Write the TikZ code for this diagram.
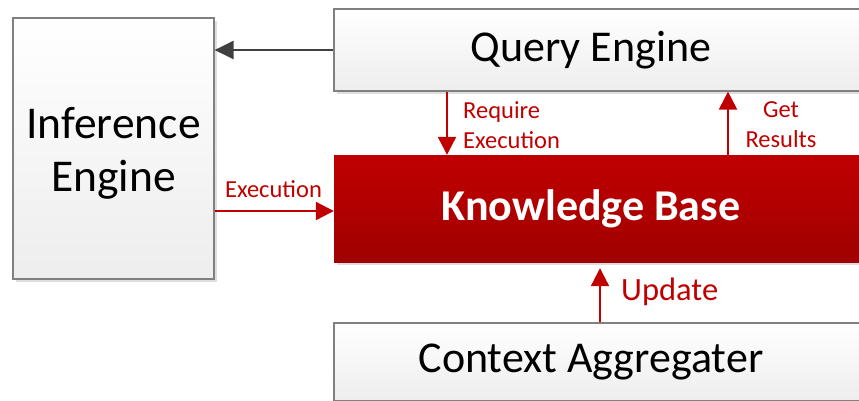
\documentclass[tikz,border=0pt]{standalone}
\usepackage{fontspec}
\setmainfont{Carlito}
\usetikzlibrary{arrows.meta,shadows}
\definecolor{kbtop}{HTML}{C00000}
\definecolor{kbbot}{HTML}{A00000}
\definecolor{redline}{HTML}{C00000}
\definecolor{edgegray}{HTML}{808080}
\definecolor{darkarr}{HTML}{404040}
\begin{document}
\begin{tikzpicture}[x=1pt,y=-1pt,
  gbox/.style={rectangle, draw=edgegray, line width=1.2pt, top color=white, bottom color=black!7,
    drop shadow={shadow xshift=3pt, shadow yshift=-3pt, fill=black!13, opacity=1},
    inner sep=0pt, font=\fontsize{44}{53}\selectfont, align=center},
  kbbox/.style={rectangle, draw=none, top color=kbtop, bottom color=kbbot,
    drop shadow={shadow xshift=3pt, shadow yshift=-3pt, fill=black!13, opacity=1},
    inner sep=0pt, font=\fontsize{44}{53}\selectfont\bfseries, text=white},
  redarr/.style={draw=redline, line width=2.2pt, -{Triangle[length=18pt,width=18pt]}},
  grayarr/.style={draw=darkarr, line width=2.6pt, -{Triangle[length=19pt,width=18pt]}},
  lbl/.style={text=redline, inner sep=0pt, font=\fontsize{24.5}{30}\selectfont}
]
\useasboundingbox (0,0) rectangle (859,400);
\clip (0,0) rectangle (859,400);

\node[gbox, minimum width=201pt, minimum height=261pt, font=\fontsize{45.5}{53}\selectfont] (ie) at (113.5,148.5) {\rule{0pt}{41pt}Inference\\Engine};
\node[gbox, minimum width=536pt, minimum height=82pt] (qe) at (602,50) {\hspace*{-22pt}Query Engine};
\node[kbbox, minimum width=536pt, minimum height=107pt] (kb) at (602,208.5) {\hspace*{-22pt}Knowledge Base};
\node[gbox, minimum width=536pt, minimum height=78pt] (ca) at (602,362) {\hspace*{-22pt}Context Aggregater};

\draw[grayarr] (qe.west) -- (ie.east |- qe.west);
\draw[redarr] (ie.east |- 0,211) -- (kb.west |- 0,211);
\draw[redarr] (qe.south -| 447,0) -- (kb.north -| 447,0);
\draw[redarr] (kb.north -| 728,0) -- (qe.south -| 728,0);
\draw[redarr, shorten >=6pt] (ca.north -| 600,0) -- (kb.south -| 600,0);

\node[lbl, anchor=base] (lexe) at (273.5,197) {Execution};
\node[lbl, anchor=base west, align=left] (lreq) at (463,148) {Require\\Execution};
\node[lbl, anchor=base, align=center] (lget) at (781,147) {Get\\Results};
\node[lbl, anchor=base west, font=\fontsize{32.5}{36}\selectfont] (lupd) at (621,300) {Update};
\end{tikzpicture}
\end{document}
